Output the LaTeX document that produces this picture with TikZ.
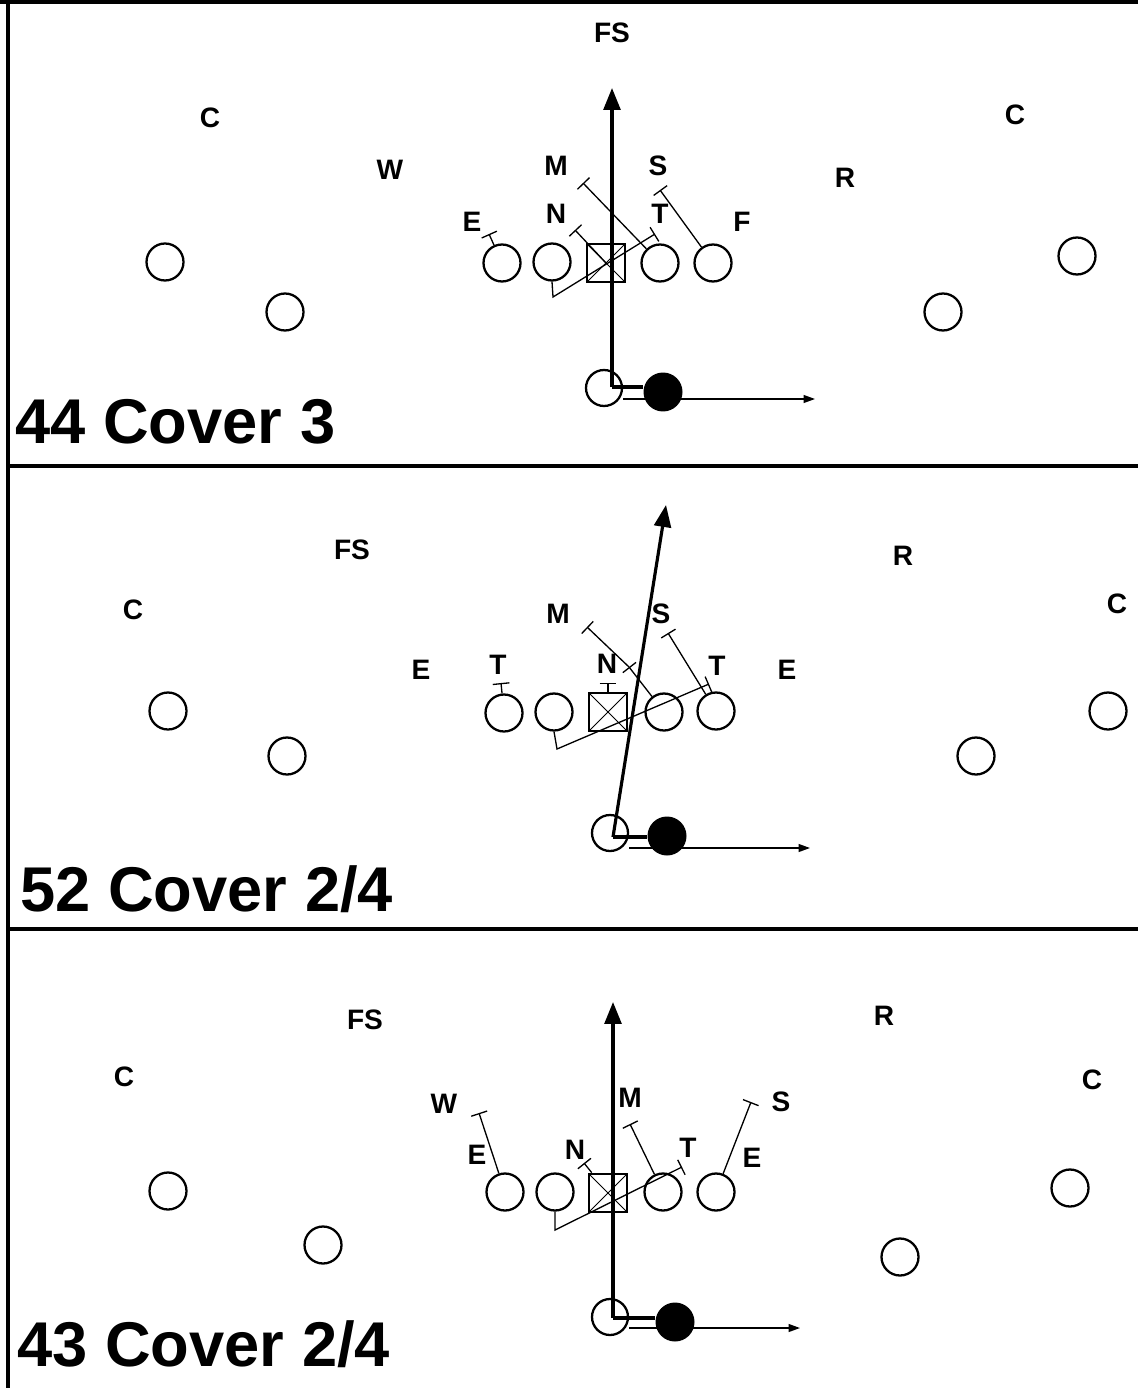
\documentclass[tikz,border=0pt]{standalone}
\usepackage{fontspec}
\setmainfont{Liberation Sans}
\usetikzlibrary{arrows.meta}

\begin{document}
\begin{tikzpicture}[x=0.02cm, y=-0.02cm,
                    man/.style={circle, draw, line width=1.3pt, minimum size=0.74cm, inner sep=0},
                    back/.style={circle, draw, line width=1.3pt, minimum size=0.72cm, inner sep=0},
                    ball/.style={circle, fill, minimum size=0.78cm, inner sep=0},
                    ctr/.style={rectangle, draw, line width=1.6pt, minimum size=0.76cm, inner sep=0,
                      path picture={\draw[line width=0.5pt]
                        (path picture bounding box.north west) -- (path picture bounding box.south east)
                        (path picture bounding box.north east) -- (path picture bounding box.south west);}},
                    tag/.style={font=\fontsize{16}{16}\selectfont\bfseries, inner sep=0},
                    heading/.style={font=\fontsize{36}{36}\selectfont\bfseries, inner sep=0, anchor=base west},
                    block/.style={line width=0.75pt, -{Bar[width=9.5pt]}},
                    lead/.style={line width=1.8pt, -{Triangle[width=9.6pt,length=12.5pt]}},
                    hand/.style={line width=1.8pt},
                    sweep/.style={line width=0.8pt, -{Triangle[width=4.5pt,length=6.5pt]}},
                    fieldline/.style={line width=2.2pt}]
  \useasboundingbox (0,0) rectangle (1138,1388);

  % frame
  \draw[fieldline] (0,2) -- (1138,2);
  \draw[fieldline] (8,0) -- (8,1388);
  \draw[fieldline] (8,466) -- (1138,466);
  \draw[fieldline] (8,929) -- (1138,929);

  % 44 cover 3
  \node[tag] (a-fs) at (612,33) {FS};
  \node[tag] (a-c1) at (210,118) {C};
  \node[tag] (a-w) at (390,170) {W};
  \node[tag] (a-m) at (556,166) {M};
  \node[tag] (a-s) at (658,166) {S};
  \node[tag] (a-r) at (845,178) {R};
  \node[tag] (a-c2) at (1015,115) {C};
  \node[tag] (a-e) at (472,222) {E};
  \node[tag] (a-n) at (556,214) {N};
  \node[tag] (a-t) at (660,214) {T};
  \node[tag] (a-f) at (742,222) {F};

  \node[man] (a-wl) at (165,262) {};
  \node[man] (a-sl) at (285,312) {};
  \node[man] (a-lt) at (502,263) {};
  \node[man] (a-lg) at (552,262) {};
  \node[ctr] (a-cc) at (606,263) {};
  \node[man] (a-rg) at (660,263) {};
  \node[man] (a-rt) at (713,263) {};
  \node[man] (a-wr) at (1077,256) {};
  \node[man] (a-sr) at (943,312) {};
  \node[back] (a-qb) at (604,388) {};
  \node[ball] (a-rb) at (663,392) {};

  \coordinate (a-xe) at (489,234);
  \coordinate (a-xn) at (575,230);
  \coordinate (a-xm) at (583,183);
  \coordinate (a-xs) at (660,190);
  \coordinate (a-kink) at (553,297);
  \coordinate (a-xt) at (655,234);
  \draw[block] (a-lt) -- (a-xe);
  \draw[block] (a-cc.center) -- (a-xn);
  \draw[block] (a-rg) -- (a-xm);
  \draw[block] (a-rt) -- (a-xs);
  \draw[block] (a-lg.south) -- (a-kink) -- (a-xt);

  \coordinate (a-mesh) at (612,387);
  \coordinate (a-deep) at (612,88);
  \coordinate (a-flat) at (815,399);
  \draw[lead] (a-mesh) -- (a-deep);
  \draw[hand] (a-mesh) -- (a-mesh -| a-rb.west);
  \draw[sweep] (a-qb.east |- a-flat) -- (a-flat);

  \node[heading] (a-name) at (15,443) {44 Cover 3};

  % 52 cover 2/4
  \node[tag] (b-fs) at (352,550) {FS};
  \node[tag] (b-r) at (903,556) {R};
  \node[tag] (b-c1) at (133,610) {C};
  \node[tag] (b-c2) at (1117,604) {C};
  \node[tag] (b-m) at (558,614) {M};
  \node[tag] (b-s) at (661,614) {S};
  \node[tag] (b-e1) at (421,670) {E};
  \node[tag] (b-t1) at (498,665) {T};
  \node[tag] (b-n) at (607,664) {N};
  \node[tag] (b-t2) at (717,666) {T};
  \node[tag] (b-e2) at (787,670) {E};

  \node[man] (b-wl) at (168,711) {};
  \node[man] (b-sl) at (287,756) {};
  \node[man] (b-lt) at (504,713) {};
  \node[man] (b-lg) at (554,712) {};
  \node[ctr] (b-cc) at (608,712) {};
  \node[man] (b-rg) at (664,712) {};
  \node[man] (b-rt) at (716,711) {};
  \node[man] (b-wr) at (1108,711) {};
  \node[man] (b-sr) at (976,756) {};
  \node[back] (b-qb) at (610,833) {};
  \node[ball] (b-rb) at (667,836) {};

  \coordinate (b-xt1) at (501,683);
  \coordinate (b-xn) at (608,683);
  \coordinate (b-xnn) at (629,667);
  \coordinate (b-xm) at (587,627);
  \coordinate (b-xs) at (668,633);
  \coordinate (b-kink) at (557,749);
  \coordinate (b-xt2) at (709,684);
  \draw[block] (b-lt) -- (b-xt1);
  \draw[block] (b-cc) -- (b-xn);
  \draw[block] (b-rg) -- (b-xnn);
  \draw[block] (b-xnn) -- (b-xm);
  \draw[block] (b-rt) -- (b-xs);
  \draw[block] (b-lg.south) -- (b-kink) -- (b-xt2);

  \coordinate (b-mesh) at (613,837);
  \coordinate (b-deep) at (666,505);
  \coordinate (b-flat) at (810,848);
  \draw[lead] (b-mesh) -- (b-deep);
  \draw[hand] (b-mesh) -- (b-mesh -| b-rb.west);
  \draw[sweep] (b-qb.east |- b-flat) -- (b-flat);

  \node[heading] (b-name) at (20,911) {52 Cover 2/4};

  % 43 cover 2/4
  \node[tag] (c-fs) at (365,1020) {FS};
  \node[tag] (c-r) at (884,1016) {R};
  \node[tag] (c-c1) at (124,1077) {C};
  \node[tag] (c-c2) at (1092,1080) {C};
  \node[tag] (c-w) at (444,1104) {W};
  \node[tag] (c-m) at (630,1098) {M};
  \node[tag] (c-s) at (781,1102) {S};
  \node[tag] (c-e1) at (477,1155) {E};
  \node[tag] (c-n) at (575,1150) {N};
  \node[tag] (c-t) at (688,1148) {T};
  \node[tag] (c-e2) at (752,1158) {E};

  \node[man] (c-wl) at (168,1191) {};
  \node[man] (c-sl) at (323,1245) {};
  \node[man] (c-lt) at (505,1192) {};
  \node[man] (c-lg) at (555,1192) {};
  \node[ctr] (c-cc) at (608,1193) {};
  \node[man] (c-rg) at (663,1192) {};
  \node[man] (c-rt) at (716,1192) {};
  \node[man] (c-wr) at (1070,1188) {};
  \node[man] (c-sr) at (900,1257) {};
  \node[back] (c-qb) at (610,1317) {};
  \node[ball] (c-rb) at (675,1322) {};

  \coordinate (c-xw) at (479,1113);
  \coordinate (c-xn) at (584,1163);
  \coordinate (c-xm) at (630,1124);
  \coordinate (c-xs) at (751,1102);
  \coordinate (c-kink) at (555,1230);
  \coordinate (c-xt) at (682,1167);
  \draw[block] (c-lt) -- (c-xw);
  \draw[block] (c-cc) -- (c-xn);
  \draw[block] (c-rg) -- (c-xm);
  \draw[block] (c-rt) -- (c-xs);
  \draw[block] (c-lg.south) -- (c-kink) -- (c-xt);

  \coordinate (c-mesh) at (613,1318);
  \coordinate (c-deep) at (613,1002);
  \coordinate (c-flat) at (800,1328);
  \draw[lead] (c-mesh) -- (c-deep);
  \draw[hand] (c-mesh) -- (c-mesh -| c-rb.west);
  \draw[sweep] (c-qb.east |- c-flat) -- (c-flat);

  \node[heading] (c-name) at (17,1366) {43 Cover 2/4};
\end{tikzpicture}
\end{document}
